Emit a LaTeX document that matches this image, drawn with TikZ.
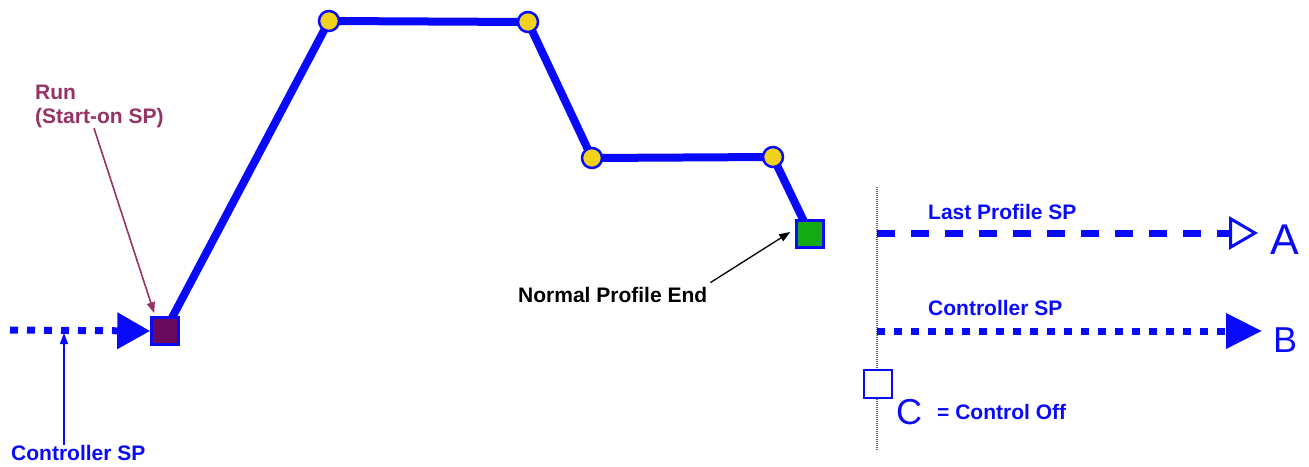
\documentclass[tikz,border=0pt]{standalone}
\usepackage{fontspec}
\setmainfont{Liberation Sans}
\usetikzlibrary{arrows.meta,backgrounds}
\definecolor{pblue}{RGB}{10,10,250}
\definecolor{runcol}{RGB}{150,50,100}
\definecolor{purplesq}{RGB}{105,10,95}
\definecolor{yel}{RGB}{240,210,30}
\definecolor{grn}{RGB}{20,170,20}
\begin{document}
\begin{tikzpicture}[x=1pt,y=-1pt,
  sqbox/.style={draw=pblue, line width=2.5pt, minimum size=27pt, inner sep=0pt},
  dotnode/.style={circle, draw=pblue, fill=yel, line width=2.5pt, minimum size=20pt, inner sep=0pt},
  prof/.style={draw=pblue, line width=8pt, line join=round},
  lbl/.style={font=\bfseries\fontsize{21}{24}\selectfont, inner sep=0pt, anchor=base west},
  big/.style={text=pblue, inner sep=0pt, anchor=base west},
  dotline/.style={draw=pblue, line width=7pt, dash pattern=on 8pt off 9pt},
  dashline/.style={draw=pblue, line width=7pt, dash pattern=on 18pt off 16pt},
  thinarrow/.style={line width=1.6pt, -{Triangle[length=11pt,width=8pt]}}
]
\useasboundingbox (0,0) rectangle (1309,466);

% profile nodes
\node[sqbox, fill=purplesq] (start) at (165,331) {};
\node[dotnode] (c1) at (329,21) {};
\node[dotnode] (c2) at (528,22) {};
\node[dotnode] (c3) at (592,158) {};
\node[dotnode] (c4) at (773,157) {};
\node[sqbox, fill=grn] (end) at (810,234) {};

\begin{pgfonlayer}{background}
\draw[prof] (start.center) -- (c1.center) -- (c2.center) -- (c3.center) -- (c4.center) -- (end.center);
\end{pgfonlayer}

% input line
\coordinate (in0) at (10,330);
\draw[dotline, -{Triangle[length=33pt,width=35pt]}] (in0) -- (start.west);

% labels left
\node[lbl, text=pblue] (csl) at (11,460) {Controller SP};
\coordinate (cstip) at (64,333);
\draw[thinarrow, draw=pblue, fill=pblue] (csl.north -| cstip) -- (cstip);

\node[font=\bfseries\fontsize{21}{24}\selectfont, text=runcol, inner sep=0pt, anchor=north west, align=left] (run) at (35,85) {Run\\(Start-on SP)};
\draw[thinarrow, draw=runcol, fill=runcol] ([xshift=59pt]run.south west) -- ([xshift=4pt,yshift=3pt]start.north west);

\node[lbl, text=black] (npe) at (518,302) {Normal Profile End};
\draw[line width=1.3pt, -{Triangle[length=11pt,width=8pt]}] ([xshift=3pt,yshift=4pt]npe.north east) -- ([xshift=-5pt,yshift=2pt]end.west);

% right legend
\coordinate (v0) at (877,187);
\coordinate (v1) at (877,450);
\draw[draw=black!60, line width=1.5pt, dash pattern=on 1pt off 1pt] (v0) -- (v1);

\node[big, font=\fontsize{43}{48}\selectfont] (A) at (1270,254) {A};
\node[big, font=\fontsize{36}{40}\selectfont] (B) at (1273,352) {B};
\node[big, font=\fontsize{36}{40}\selectfont] (C) at (896,424) {C};

\coordinate (a0) at (877,233);
\coordinate (b0) at (877,331);
\draw[dashline, -{Triangle[open,length=29pt,width=33pt,line width=3pt]}] (a0) -- ([xshift=-12pt]A.west |- a0);
\draw[dotline, -{Triangle[length=36pt,width=34pt]}] (b0) -- ([xshift=-11pt]B.west |- b0);

\node[lbl, text=pblue] (lps) at (928,219) {Last Profile SP};
\node[lbl, text=pblue] (csr) at (928,315) {Controller SP};

\node[sqbox, fill=white, minimum size=28pt, line width=2pt] (off) at (878,384) {};
\node[lbl, text=pblue] (coff) at (937,419) {= Control Off};
\end{tikzpicture}
\end{document}
